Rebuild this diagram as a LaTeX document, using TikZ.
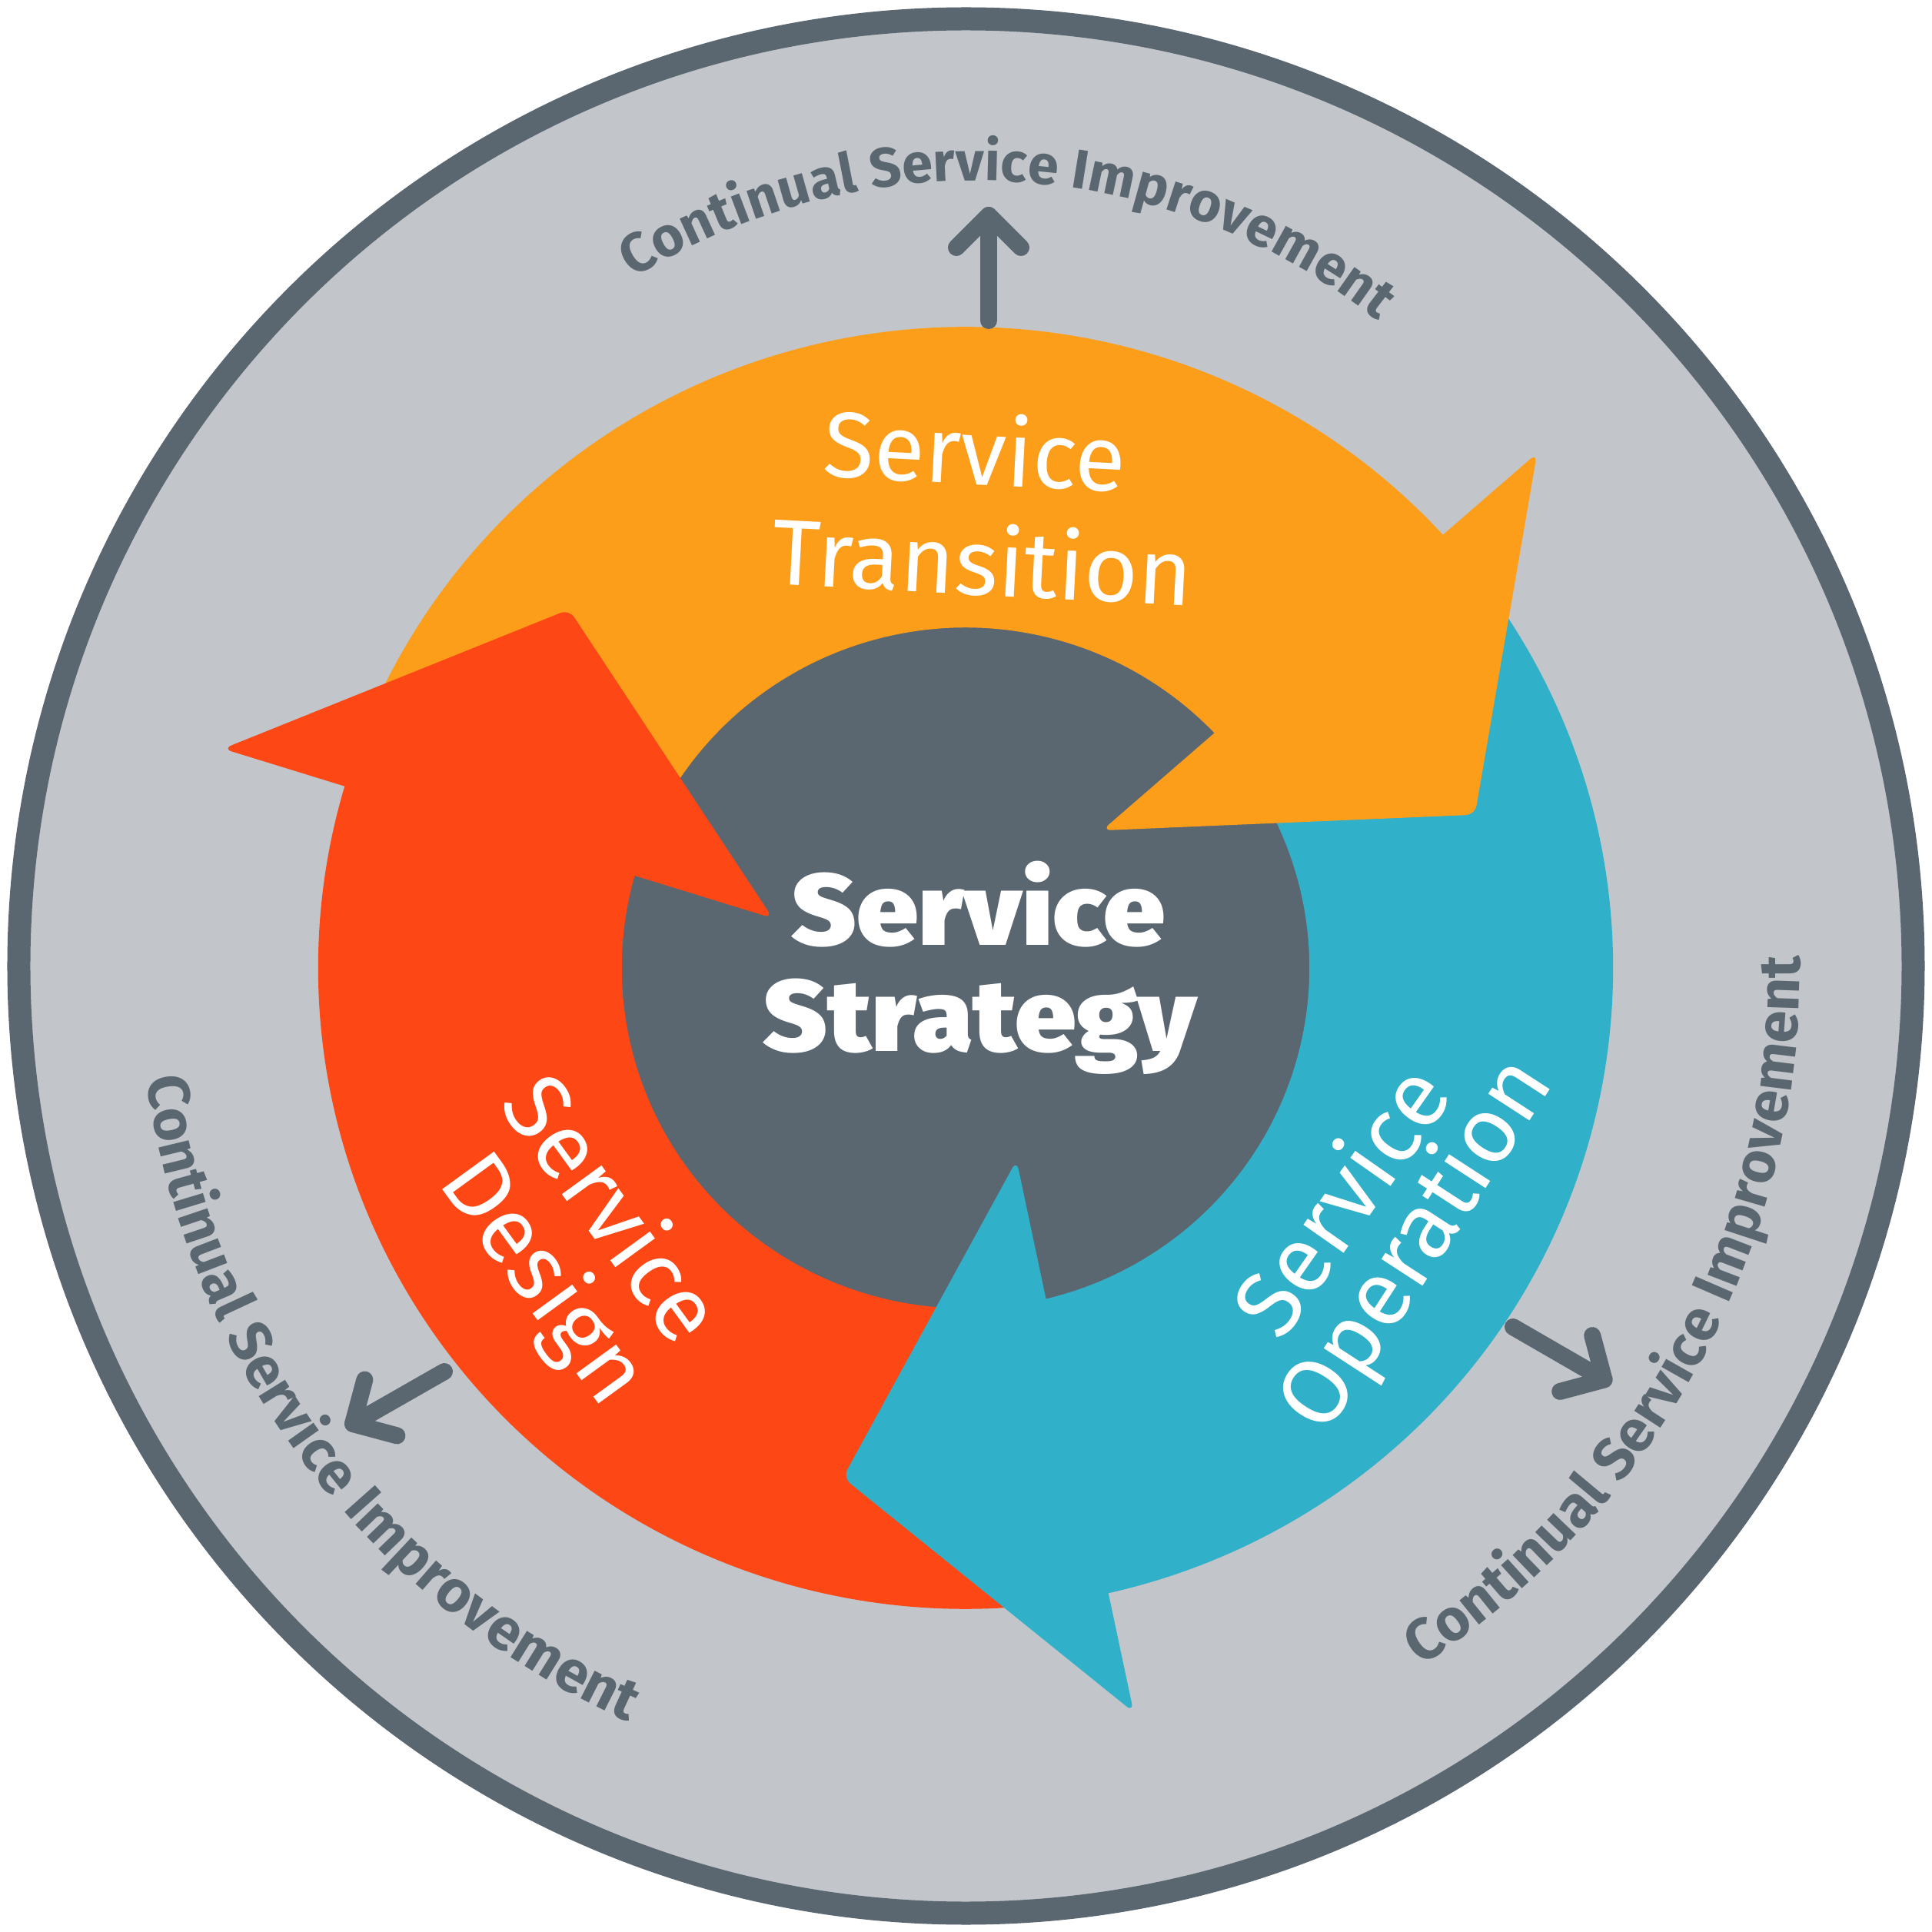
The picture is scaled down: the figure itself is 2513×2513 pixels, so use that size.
\documentclass[tikz,border=0pt]{standalone}
\usepackage{fontspec}
\setmainfont{Fira Sans}
\IfFontExistsTF{Fira Sans Heavy}{\newfontfamily\heavyfont{Fira Sans Heavy}}{%
  \IfFontExistsTF{Fira Sans Black}{\newfontfamily\heavyfont{Fira Sans Black}}{%
    \IfFontExistsTF{Fira Sans ExtraBold}{\newfontfamily\heavyfont{Fira Sans ExtraBold}}{%
      \newcommand\heavyfont{\bfseries}}}}
\usetikzlibrary{decorations.text}
\definecolor{ringgray}{HTML}{C2C5CA}
\definecolor{darkslate}{HTML}{5B6770}
\definecolor{orangeA}{HTML}{FD9E1B}
\definecolor{redA}{HTML}{FD4714}
\definecolor{tealA}{HTML}{31B0C9}
\newcommand\csifont{\fontsize{72}{72}\selectfont\bfseries}
\newcommand\csifontb{\fontsize{76}{76}\selectfont\bfseries}
\tikzset{
  labstyle/.style={text=white, font=\fontsize{121}{121}\selectfont, inner sep=0pt},
  stratstyle/.style={text=white, font=\heavyfont\fontsize{132}{132}\selectfont, inner sep=0pt},
  csiarrow/.style={line width=22pt, draw=darkslate, line cap=round, line join=round},
  headstyle/.style={rounded corners=12pt},
  csitext/.style={decorate, decoration={text along path, text={|\csifont|Continual Service Improvement}, text align=center, text color=darkslate}},
  csitextb/.style={decorate, decoration={text along path, text={|\csifontb|Continual Service Improvement}, text align=center, text color=darkslate}}
}
\begin{document}
\begin{tikzpicture}[x=1pt,y=1pt]
\useasboundingbox (-1256,-1255) rectangle (1257,1258);
% outer ring
\draw[line width=30pt, draw=darkslate, fill=ringgray] (0.5,1.5) circle[radius=1232pt];
\begin{scope}[shift={(0,-1)}, xscale=1.005, yscale=0.995]
% centre
\fill[darkslate] (0,0) circle[radius=447pt];
% bodies
\fill[redA] (-85.5:838) arc[start angle=-85.5, end angle=-199, radius=838pt] -- (161:445) arc[start angle=161, end angle=268, radius=445pt] -- cycle;
\fill[orangeA] (155:838) arc[start angle=155, end angle=40.5, radius=838pt] -- (40.5:445) arc[start angle=40.5, end angle=148, radius=445pt] -- cycle;
\fill[tealA] (34:838) arc[start angle=34, end angle=-79.5, radius=838pt] -- (-79.5:445) arc[start angle=-79.5, end angle=27.5, radius=445pt] -- cycle;
% heads
\fill[redA, headstyle] (163.4:1003) -- (137.6:695) -- (165.4:258) -- cycle;
\fill[orangeA, headstyle] (42.3:1000) -- (16.9:689) -- (45.5:252) -- cycle;
\fill[tealA, headstyle] (-77.4:997) -- (-103.4:685) -- (-75.3:260) -- cycle;
\end{scope}
% CSI arrows
\coordinate (aT0) at (30,841); \coordinate (aT1) at (30,978);
\coordinate (aTl) at (-12,936); \coordinate (aTr) at (72,936);
\draw[csiarrow] (aT0) -- (aT1); \draw[csiarrow] (aTl) -- (aT1) -- (aTr);
\coordinate (aL0) at (-678,-526); \coordinate (aL1) at (-797,-594);
\coordinate (aLl) at (-781.6,-536.6); \coordinate (aLr) at (-739.6,-609.4);
\draw[csiarrow] (aL0) -- (aL1); \draw[csiarrow] (aLl) -- (aL1) -- (aLr);
\coordinate (aR0) at (712,-468); \coordinate (aR1) at (830.6,-536.5);
\coordinate (aRl) at (815.2,-479.1); \coordinate (aRr) at (773.2,-551.9);
\draw[csiarrow] (aR0) -- (aR1); \draw[csiarrow] (aRl) -- (aR1) -- (aRr);
% CSI texts
\begin{scope}[shift={(12.6,180)}]
\path[csitext] (146.7:843) arc[start angle=146.7, end angle=26.7, radius=843pt];
\end{scope}
\path[csitextb] (176.8:1075) arc[start angle=176.8, end angle=256.8, radius=1075pt];
\path[csitextb] (-68.1:1085) arc[start angle=-68.1, end angle=11.9, radius=1085pt];
% labels
\node[labstyle, anchor=base, rotate=-3] (tr1) at (10,628) {Service};
\node[labstyle, anchor=base, rotate=-3] (tr2) at (20,484) {Transition};
\node[labstyle, anchor=base, rotate=-54] (de1) at (-493,-339) {Service};
\node[labstyle, anchor=base, rotate=-54] (de2) at (-579,-428) {Design};
\node[labstyle, anchor=base, rotate=55] (op1) at (523,-328) {Service};
\node[labstyle, anchor=base, rotate=57] (op2) at (617,-380) {Operation};
\node[stratstyle, anchor=base, xscale=1.09] (st1) at (17,28) {Service};
\node[stratstyle, anchor=base, xscale=1.08] (st2) at (19,-109) {Strategy};
\end{tikzpicture}
\end{document}
